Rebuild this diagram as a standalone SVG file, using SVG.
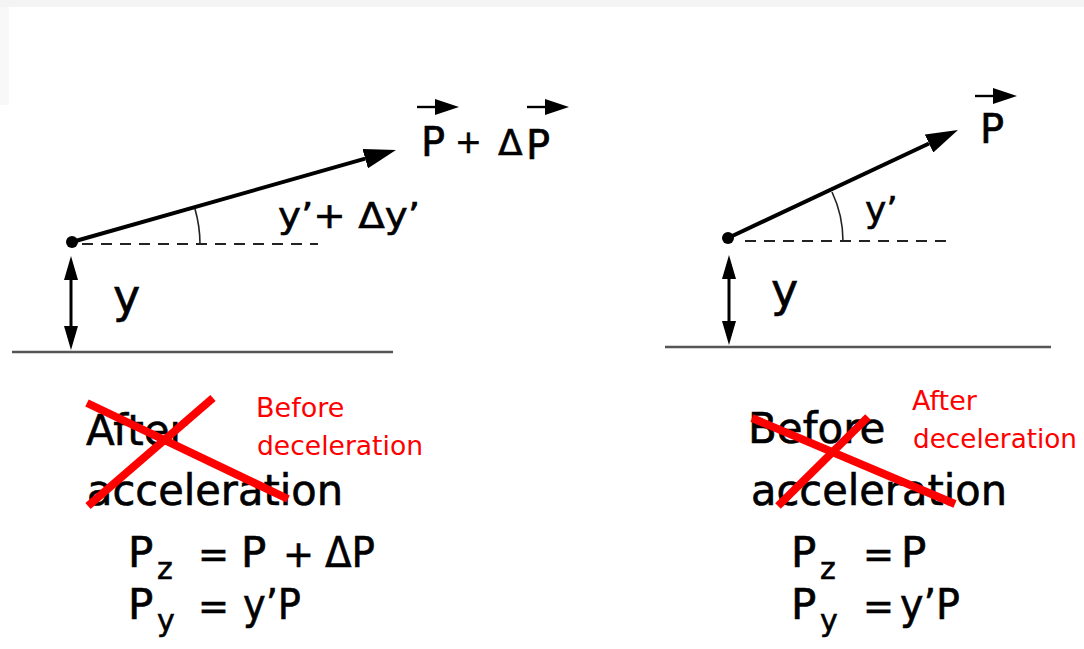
<svg xmlns="http://www.w3.org/2000/svg" width="1084" height="649" viewBox="0 0 1084 649">
  <defs>
    <style>
      .t { font-family: "DejaVu Sans", "Liberation Sans", sans-serif; fill: #000; stroke: #000; stroke-width: 0.6; }
      .big { font-size: 42px; }
      .eq { font-size: 37px; }
      .sub { font-size: 30px; }
      .lab { font-size: 36px; }
      .yl { font-size: 46px; }
      .vec { font-size: 40px; }
      .red { font-family: "DejaVu Sans", "Liberation Sans", sans-serif; font-size: 27px; fill: #ff0000; }
      .shaft { stroke: #000; stroke-width: 4; fill: none; }
      .thin { stroke: #000; stroke-width: 2.4; fill: none; }
      .vshaft { stroke: #000; stroke-width: 3; fill: none; }
      .dash { stroke: #222; stroke-width: 2.2; stroke-dasharray: 11 8; fill: none; }
      .ground { stroke: #555; stroke-width: 2.5; fill: none; }
      .arc { stroke: #222; stroke-width: 1.6; fill: none; }
      .cross { stroke: #ff0000; stroke-width: 8; fill: none; }
    </style>
    <marker id="head" markerUnits="userSpaceOnUse" viewBox="0 0 32 20" refX="0" refY="10" markerWidth="32" markerHeight="20" orient="auto">
      <path d="M0,0 L32,10 L0,20 z" fill="#000"/>
    </marker>
    <marker id="vhead" markerUnits="userSpaceOnUse" viewBox="0 0 24 14" refX="0" refY="7" markerWidth="24" markerHeight="14" orient="auto-start-reverse">
      <path d="M0,0 L24,7 L0,14 z" fill="#000"/>
    </marker>
    <marker id="shead" markerUnits="userSpaceOnUse" viewBox="0 0 24 16" refX="0" refY="8" markerWidth="24" markerHeight="16" orient="auto">
      <path d="M0,0 L24,8 L0,16 z" fill="#000"/>
    </marker>
  </defs>

  <rect x="0" y="0" width="1084" height="649" fill="#ffffff"/>
  <rect x="0" y="0" width="1084" height="7" fill="#f4f4f4"/>
  <rect x="0" y="7" width="9" height="98" fill="#f8f8f8"/>

  <!-- Left diagram -->
  <g id="left-diagram">
    <line class="ground" x1="12" y1="352" x2="393" y2="352"/>
    <line class="dash" x1="82" y1="244" x2="318" y2="244"/>
    <path class="arc" d="M200,244 A128,128 0 0 0 195,209"/>
    <circle cx="72" cy="242" r="6" fill="#000"/>
    <text class="t lab" x="278" y="228" textLength="142" lengthAdjust="spacingAndGlyphs">y’+ Δy’</text>
    <text class="t yl" x="113" y="312">y</text>
    <text class="t vec" x="421" y="156">P</text>
    <text class="t" style="font-size:32px" x="455" y="153">+</text>
    <text class="t" style="font-size:36px" x="498" y="155">Δ</text>
    <text class="t vec" x="526" y="159">P</text>
  </g>

  <!-- Right diagram -->
  <g id="right-diagram">
    <line class="ground" x1="665" y1="347" x2="1051" y2="347"/>
    <line class="dash" x1="745" y1="241" x2="948" y2="241"/>
    <path class="arc" d="M843,241 A115,115 0 0 0 832,192"/>
    <circle cx="728" cy="238" r="6" fill="#000"/>
    <text class="t lab" x="865" y="222">y’</text>
    <text class="t yl" x="771" y="306">y</text>
    <text class="t vec" x="980" y="143">P</text>
  </g>

  <!-- Connectors -->
  <g id="connectors">
    <line class="shaft" x1="72" y1="242" x2="365.2" y2="158.7" marker-end="url(#head)"/>
    <line class="shaft" x1="728" y1="238" x2="929" y2="143.5" marker-end="url(#head)"/>
    <line class="vshaft" x1="71" y1="280" x2="71" y2="326" marker-start="url(#vhead)" marker-end="url(#vhead)"/>
    <line class="vshaft" x1="729" y1="279" x2="729" y2="321" marker-start="url(#vhead)" marker-end="url(#vhead)"/>
    <line class="thin" x1="417" y1="107" x2="435" y2="107" marker-end="url(#shead)"/>
    <line class="thin" x1="527" y1="107" x2="545" y2="107" marker-end="url(#shead)"/>
    <line class="thin" x1="975" y1="96" x2="993" y2="96" marker-end="url(#shead)"/>
  </g>

  <!-- Left captions -->
  <g id="left-caption">
    <text class="t big" x="86" y="445">After</text>
    <text class="t big" x="87" y="505" textLength="256" lengthAdjust="spacingAndGlyphs">acceleration</text>
    <line class="cross" x1="87" y1="403" x2="288" y2="499"/>
    <line class="cross" x1="213" y1="398" x2="88" y2="506"/>
    <text class="red" x="256" y="417">Before</text>
    <text class="red" x="257" y="455" textLength="166" lengthAdjust="spacingAndGlyphs">deceleration</text>
  </g>
  <g id="left-formula">
    <text class="t big" x="128" y="567">P</text>
    <text class="t sub" x="157" y="579">z</text>
    <text class="t eq" x="198" y="567">=</text>
    <text class="t big" x="241" y="567">P</text>
    <text class="t eq" x="283" y="567">+</text>
    <text class="t big" x="325" y="567" textLength="50" lengthAdjust="spacingAndGlyphs">ΔP</text>
    <text class="t big" x="128" y="619">P</text>
    <text class="t sub" x="157" y="631">y</text>
    <text class="t eq" x="198" y="619">=</text>
    <text class="t big" x="243" y="619" textLength="58" lengthAdjust="spacingAndGlyphs">y’P</text>
  </g>

  <!-- Right captions -->
  <g id="right-caption">
    <text class="t big" x="748" y="443">Before</text>
    <text class="t big" x="751" y="505" textLength="256" lengthAdjust="spacingAndGlyphs">acceleration</text>
    <line class="cross" x1="752" y1="418" x2="955" y2="504"/>
    <line class="cross" x1="868" y1="417" x2="778" y2="506"/>
    <text class="red" x="912" y="410">After</text>
    <text class="red" x="913" y="448" textLength="164" lengthAdjust="spacingAndGlyphs">deceleration</text>
  </g>
  <g id="right-formula">
    <text class="t big" x="791" y="567">P</text>
    <text class="t sub" x="820" y="579">z</text>
    <text class="t eq" x="863" y="567">=</text>
    <text class="t big" x="901" y="567">P</text>
    <text class="t big" x="791" y="619">P</text>
    <text class="t sub" x="820" y="631">y</text>
    <text class="t eq" x="863" y="619">=</text>
    <text class="t big" x="900" y="619" textLength="60" lengthAdjust="spacingAndGlyphs">y’P</text>
  </g>
</svg>
